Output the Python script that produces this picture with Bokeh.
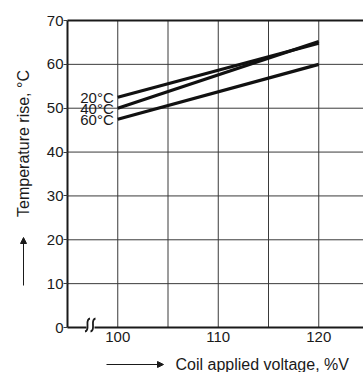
from bokeh.plotting import figure
from bokeh.models import (Range1d, FixedTicker, Label, Arrow, NormalHead,
                          ColumnDataSource)
from bokeh.core.properties import value
from bokeh.embed import file_html
from bokeh.resources import INLINE

# ---- data ----
voltage = [100, 120]
rise_20 = [52.5, 64.8]
rise_40 = [50.0, 65.2]
rise_60 = [47.5, 60.0]
series_labels = ["20°C", "40°C", "60°C"]
x_ticks = [100, 110, 120]
x_grid = [100, 105, 110, 115, 120]
y_ticks = [0, 10, 20, 30, 40, 50, 60, 70]
y_grid = [10, 20, 30, 40, 50, 60]
x_min, y_min, y_max = 95, 0, 70
x_title = "Coil applied voltage, %V"
y_title = "Temperature rise, °C"

FONT = "Liberation Sans"
INK = "#1a1a1a"
GRID = "#3a3a3a"

# plot area: x=95 at 67px, 10.05 px/unit; y=0 at 327px, 70 at 20px
XS = 10.05
YS = 307 / 70.0
x_lo = x_min - 67 / XS
x_hi = x_lo + 363 / XS
y_hi = y_max + 20 / YS
y_lo = y_min - 45 / YS

p = figure(width=363, height=372, output_backend="svg", toolbar_location=None,
           x_range=Range1d(x_lo, x_hi), y_range=Range1d(y_lo, y_hi),
           min_border=0)
p.outline_line_color = None
p.background_fill_color = "white"
p.border_fill_color = "white"
p.grid.visible = False

# axes fixed inside the canvas
p.xaxis.fixed_location = y_min
p.xaxis.bounds = (x_min, x_hi)
p.yaxis.fixed_location = x_min
p.yaxis.bounds = (y_min, y_max)
p.xaxis.ticker = FixedTicker(ticks=x_ticks)
p.yaxis.ticker = FixedTicker(ticks=y_ticks)
for ax in (p.xaxis, p.yaxis):
    ax.axis_line_color = INK
    ax.axis_line_width = 2
    ax.minor_tick_line_color = None
    ax.major_label_text_font = FONT
    ax.major_label_text_font_size = "15px"
    ax.major_label_text_color = INK
p.xaxis.major_tick_line_color = None
p.xaxis.major_tick_out = 0
p.xaxis.major_tick_in = 0
p.xaxis.major_label_standoff = 4
p.yaxis.major_tick_in = 0
p.yaxis.major_tick_out = 4
p.yaxis.major_tick_line_color = GRID
p.yaxis.major_label_standoff = 0

# grid lines (from the grid tick lists)
p.segment(x0=x_grid, y0=[y_min] * len(x_grid), x1=x_grid, y1=[y_max] * len(x_grid),
          line_color=GRID, line_width=1, level="underlay")
p.segment(x0=[x_min] * len(y_grid), y0=y_grid, x1=[x_hi] * len(y_grid), y1=y_grid,
          line_color=GRID, line_width=1, level="underlay")
# top border
p.segment(x0=[x_min], y0=[y_max], x1=[x_hi], y1=[y_max], line_color=INK, line_width=2)

# data lines
for ys in (rise_20, rise_40, rise_60):
    p.line(voltage, ys, line_color="#111111", line_width=3.2)

# series labels at line starts
src = ColumnDataSource(dict(x=[voltage[0]] * 3,
                            y=[rise_20[0], rise_40[0], rise_60[0]],
                            t=series_labels))
p.text(x="x", y="y", text="t", source=src, x_offset=-4,
       text_align="right", text_baseline="middle",
       text_font=value(FONT), text_font_size="15px", text_color=INK)

# axis break symbol on x axis (two S-strokes with a gap in the axis line)
bx = [x_min + 20 / XS, x_min + 25.5 / XS]
p.segment(x0=[x_min + 19 / XS], y0=[y_min], x1=[x_min + 27 / XS], y1=[y_min],
          line_color="white", line_width=4, level="overlay")
p.bezier(x0=[c + 2.5 / XS for c in bx], y0=[y_min + 9 / YS] * 2,
         x1=[c - 2.5 / XS for c in bx], y1=[y_min - 4 / YS] * 2,
         cx0=[c - 3.5 / XS for c in bx], cy0=[y_min + 8 / YS] * 2,
         cx1=[c + 3.5 / XS for c in bx], cy1=[y_min - 3 / YS] * 2,
         line_color=INK, line_width=1.8, level="overlay")

# x-axis title with arrow
ty = y_min - 37 / YS
p.add_layout(Arrow(x_start=x_min + 39 / XS, y_start=ty, x_end=x_min + 96 / XS, y_end=ty,
                   line_color=INK, line_width=1,
                   end=NormalHead(size=6, fill_color=INK, line_color=INK)))
p.add_layout(Label(x=x_min + 108 / XS, y=ty, text=x_title, text_align="left",
                   text_baseline="middle", text_font=FONT,
                   text_font_size="16px", text_color=INK))

# y-axis title with arrow
tx = x_min - 44 / XS
p.add_layout(Arrow(x_start=tx, y_start=y_min + 42 / YS, x_end=tx, y_end=y_min + 90 / YS,
                   line_color=INK, line_width=1,
                   end=NormalHead(size=6, fill_color=INK, line_color=INK)))
p.add_layout(Label(x=tx, y=y_min + 184 / YS, text=y_title, angle=1.5708,
                   text_align="center", text_baseline="middle",
                   text_font=FONT, text_font_size="16px", text_color=INK))

open("out.html", "w").write(file_html(p, INLINE))
